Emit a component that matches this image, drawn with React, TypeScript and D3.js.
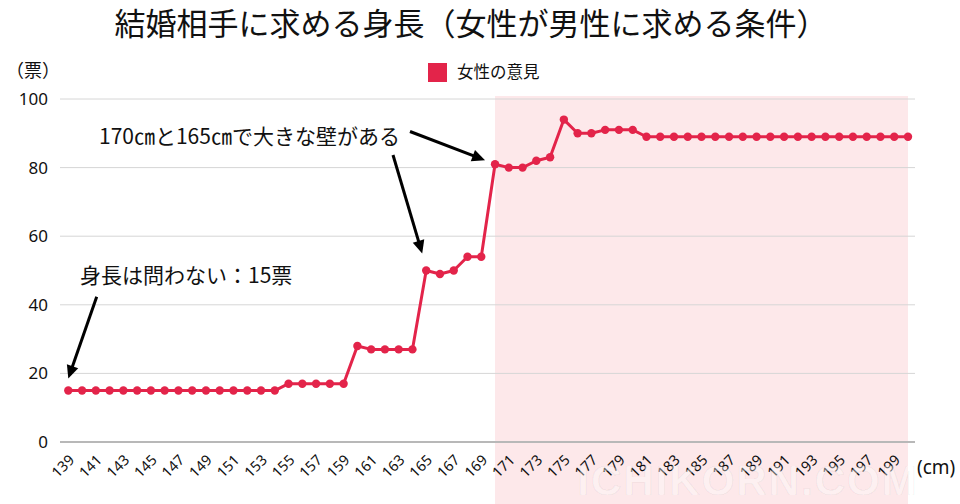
import React from "react";
import * as d3 from "d3";

const heights: number[] = [
  139, 140, 141, 142, 143, 144, 145, 146, 147, 148, 149, 150, 151, 152, 153, 154,
  155, 156, 157, 158, 159, 160, 161, 162, 163, 164, 165, 166, 167, 168, 169,
  170, 171, 172, 173, 174, 175, 176, 177, 178, 179, 180,
  181, 182, 183, 184, 185, 186, 187, 188, 189, 190, 191, 192, 193, 194, 195, 196, 197, 198, 199, 200,
];
const votes: number[] = [
  15, 15, 15, 15, 15, 15, 15, 15, 15, 15, 15, 15, 15, 15, 15, 15,
  17, 17, 17, 17, 17, 28, 27, 27, 27, 27, 50, 49, 50, 54, 54,
  81, 80, 80, 82, 83, 94, 90, 90, 91, 91, 91,
  89, 89, 89, 89, 89, 89, 89, 89, 89, 89, 89, 89, 89, 89, 89, 89, 89, 89, 89, 89,
];
const yTicks: number[] = [0, 20, 40, 60, 80, 100];
const xTickLabels: number[] = heights.filter((h) => h % 2 === 1);
const highlightFrom = 170;
const highlightTo = 200;

const title = "結婚相手に求める身長（女性が男性に求める条件）";
const seriesName = "女性の意見";
const yUnit = "（票）";
const xUnit = "(cm)";
const note1 = "身長は問わない：15票";
const note2 = "170㎝と165㎝で大きな壁がある";

const RED = "#e3244a";
const FONT = "'Noto Sans CJK JP', 'Noto Sans', sans-serif";

export default function App() {
  const x = d3.scalePoint<number>().domain(heights).range([68.3, 908]);
  const y = d3.scaleLinear().domain([0, 100]).range([442, 99]);
  const line = d3
    .line<number>()
    .x((_, i) => x(heights[i])!)
    .y((d) => y(d));

  const px = (h: number) => x(h)!;
  const valAt = (h: number) => votes[heights.indexOf(h)];

  const arrows = [
    { x1: 96.7, y1: 296.7, x2: px(139), y2: y(valAt(139)) - 12 },
    { x1: 410, y1: 131.5, x2: px(170) - 10, y2: y(valAt(170)) - 4 },
    { x1: 393, y1: 155, x2: px(165) - 4, y2: y(valAt(165)) - 17 },
  ];

  const arrowHead = (a: { x1: number; y1: number; x2: number; y2: number }) => {
    const ang = Math.atan2(a.y2 - a.y1, a.x2 - a.x1);
    const L = 13;
    const W = 6;
    const bx = a.x2 - L * Math.cos(ang);
    const by = a.y2 - L * Math.sin(ang);
    const nx = -Math.sin(ang);
    const ny = Math.cos(ang);
    return `M${a.x2},${a.y2}L${bx + nx * W},${by + ny * W}L${bx - nx * W},${by - ny * W}Z`;
  };

  return (
    <svg
      width={960}
      height={504}
      style={{ position: "absolute", left: 0, top: 0, background: "#fff" }}
      fontFamily={FONT}
    >
      {/* highlight band */}
      <rect
        x={px(highlightFrom)}
        y={96}
        width={px(highlightTo) - px(highlightFrom)}
        height={504 - 96}
        fill="#fde8ea"
      />

      {/* gridlines */}
      {yTicks.map((t) => (
        <line
          key={t}
          x1={60}
          x2={915}
          y1={y(t)}
          y2={y(t)}
          stroke={t === 0 ? "#b8b8b8" : "#d6d6d6"}
          strokeWidth={t === 0 ? 2 : 1}
        />
      ))}

      {/* y labels */}
      {yTicks.map((t) => (
        <text
          key={t}
          x={48}
          y={y(t)}
          dy="0.35em"
          textAnchor="end"
          fontSize={17}
          fontFamily="'Noto Sans', sans-serif"
          fill="#111"
        >
          {t}
        </text>
      ))}
      <text x={6} y={77} fontSize={18} fill="#111">
        {yUnit}
      </text>

      {/* x labels */}
      {xTickLabels.map((h) => (
        <text
          key={h}
          transform={`translate(${px(h) + 7},${461}) rotate(-45)`}
          textAnchor="end"
          fontSize={14.5}
          fontFamily="'Noto Sans', sans-serif"
          fill="#111"
        >
          {h}
        </text>
      ))}
      <text x={917} y={474} fontSize={19} fontFamily="'Noto Sans', sans-serif" fill="#111">
        {xUnit}
      </text>

      {/* series */}
      <path d={line(votes) || ""} fill="none" stroke={RED} strokeWidth={3} strokeLinejoin="round" />
      {votes.map((v, i) => (
        <circle key={i} cx={px(heights[i])} cy={y(v)} r={4.2} fill={RED} />
      ))}

      {/* legend */}
      <rect x={428} y={63} width={19} height={19} fill={RED} />
      <text x={457} y={72.5} dy="0.35em" fontSize={16.5} fill="#111">
        {seriesName}
      </text>

      {/* title */}
      <text x={471} y={35} textAnchor="middle" fontSize={31} fontWeight={400} fill="#111">
        {title}
      </text>

      {/* annotations */}
      <text x={80} y={276} dy="0.35em" fontSize={21} fontWeight={400} fill="#111">
        {note1}
      </text>
      <text x={99} y={137} dy="0.35em" fontSize={21} fontWeight={400} fill="#111">
        {note2}
      </text>
      {arrows.map((a, i) => {
        const ang = Math.atan2(a.y2 - a.y1, a.x2 - a.x1);
        return (
          <g key={i}>
            <line
              x1={a.x1}
              y1={a.y1}
              x2={a.x2 - 10 * Math.cos(ang)}
              y2={a.y2 - 10 * Math.sin(ang)}
              stroke="#000"
              strokeWidth={3}
            />
            <path d={arrowHead(a)} fill="#000" />
          </g>
        );
      })}

      {/* watermark */}
      <text
        x={748}
        y={495}
        textAnchor="middle"
        fontSize={42}
        fontWeight={700}
        fontFamily="'Liberation Sans', sans-serif"
        letterSpacing={2}
        fill="rgba(255,255,255,0.4)"
        stroke="rgba(0,0,0,0.05)"
        strokeWidth={1.2}
      >
        ICHIKORN.COM
      </text>
    </svg>
  );
}
